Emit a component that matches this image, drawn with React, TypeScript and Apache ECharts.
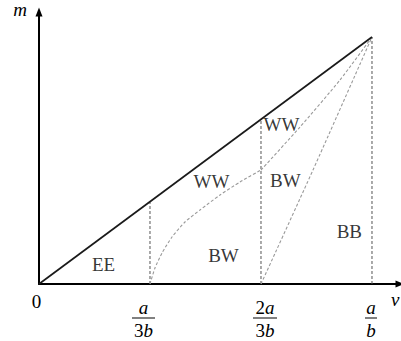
import React, { useEffect, useRef } from 'react';
import * as echarts from 'echarts';

const FONT = 'Liberation Serif, Times New Roman, serif';

// axis extents (a/b = 1 on v, m = v on the diagonal)
const vMax = 1.0841;
const mMax = 1.1012;

const tickValues = [0, 1 / 3, 2 / 3, 1];
const tickLabels = ['0', 'a/3b', '2a/3b', 'a/b'];

const diagonal = [[0, 0], [1, 1]];
const thresholdV = [1 / 3, 2 / 3, 1];

const curveLow = [
  [0.3333, 0], [0.3483, 0.0648], [0.3694, 0.1255], [0.3994, 0.1903], [0.4384, 0.251],
  [0.4835, 0.2996], [0.5435, 0.3603], [0.6036, 0.413], [0.6667, 0.4615],
];
const curveHigh = [[0.6667, 0.4615], [0.7838, 0.6356], [0.9039, 0.8259], [1, 1]];
const curveBB = [[0.6667, 0], [0.8228, 0.4615], [1, 1]];

const regionNames = ['EE', 'WW', 'BW', 'WW', 'BW', 'BB'];
const regionV = [0.194, 0.518, 0.554, 0.728, 0.74, 0.932];
const regionM = [0.077, 0.415, 0.117, 0.646, 0.417, 0.213];

// style-only: horizontal shift of each tick label, fraction bar widths
const labelShift = [-2.5, -6.5, 4, -1];
const barWidth = [0, 23, 24, 12];

function runs(text: string, line: string) {
  return text
    .split('')
    .map((c) => (/[0-9]/.test(c) ? `{${line}r|${c}}` : `{${line}i|${c}}`))
    .join('');
}

function tickFormatter(value: number) {
  const i = tickValues.findIndex((t) => Math.abs(t - value) < 1e-6);
  if (i < 0) return '';
  const text = tickLabels[i];
  const shift = labelShift[i];
  const pad = shift === 0 ? '' : `{pad${i}|}`;
  const wrap = (s: string) => (shift < 0 ? s + pad : pad + s);
  if (text.indexOf('/') < 0) return wrap(`{z|${text}}`);
  const [num, den] = text.split('/');
  return [wrap(runs(num, 'n')), wrap(`{bar${i}|}`), wrap(runs(den, 'd'))].join('\n');
}

function buildRich() {
  const base = { fontFamily: FONT, fontSize: 19, color: '#000', align: 'center' as const };
  const rich: Record<string, any> = {
    z: { ...base, lineHeight: 1 },
    nr: { ...base, lineHeight: 14 },
    ni: { ...base, fontStyle: 'italic', lineHeight: 14 },
    dr: { ...base, lineHeight: 17 },
    di: { ...base, fontStyle: 'italic', lineHeight: 17 },
  };
  tickValues.forEach((_, i) => {
    rich[`bar${i}`] = { width: barWidth[i], height: 1, backgroundColor: '#000', lineHeight: 7, align: 'center' };
    rich[`pad${i}`] = { width: Math.abs(labelShift[i]) * 2, lineHeight: 1, align: 'center' };
  });
  return rich;
}

export default function App() {
  const ref = useRef<HTMLDivElement>(null);
  useEffect(() => {
    if (!ref.current) return;
    const chart = echarts.init(ref.current, null, { renderer: 'svg' });
    const dashedGray = { color: '#555', width: 1, type: [3, 2] as number[] };
    const dashedLight = { color: '#9a9a9a', width: 1.1, type: [3, 2] as number[] };
    chart.setOption({
      animation: false,
      backgroundColor: '#fff',
      grid: { left: 39, top: 12, width: 361, height: 272, containLabel: false, outerBoundsMode: 'none' },
      xAxis: {
        type: 'value',
        min: 0,
        max: vMax,
        name: 'v',
        nameLocation: 'end',
        nameGap: -9,
        nameTextStyle: {
          fontFamily: FONT, fontStyle: 'italic', fontSize: 19, color: '#000',
          align: 'left', verticalAlign: 'top', lineHeight: 30,
        },
        axisLine: { show: true, symbol: ['none', 'triangle'], symbolSize: [7, 9], lineStyle: { color: '#000', width: 2 } },
        axisTick: { show: false },
        splitLine: { show: false },
        axisLabel: {
          customValues: tickValues,
          margin: 16.5,
          formatter: tickFormatter,
          rich: buildRich(),
        },
      },
      yAxis: {
        type: 'value',
        min: 0,
        max: mMax,
        name: 'm',
        nameLocation: 'end',
        nameGap: 3,
        nameTextStyle: {
          fontFamily: FONT, fontStyle: 'italic', fontSize: 19, color: '#000',
          align: 'right', verticalAlign: 'middle', padding: [0, 12, 0, 0],
        },
        axisLine: { show: true, symbol: ['none', 'triangle'], symbolSize: [7, 9], lineStyle: { color: '#000', width: 2 } },
        axisTick: { show: false },
        splitLine: { show: false },
        axisLabel: { show: false },
      },
      series: [
        {
          type: 'line',
          data: diagonal,
          symbol: 'none',
          lineStyle: { color: '#1a1a1a', width: 1.7 },
          z: 5,
        },
        ...thresholdV.map((v) => ({
          type: 'line',
          data: [[v, 0], [v, v]],
          symbol: 'none',
          lineStyle: dashedGray,
        })),
        { type: 'line', data: curveLow, symbol: 'none', smooth: 0.2, lineStyle: dashedLight },
        { type: 'line', data: curveHigh, symbol: 'none', smooth: 0.2, lineStyle: dashedLight },
        { type: 'line', data: curveBB, symbol: 'none', smooth: 0.2, lineStyle: dashedLight },
        {
          type: 'scatter',
          symbolSize: 0,
          data: regionNames.map((n, i) => ({ name: n, value: [regionV[i], regionM[i]] })),
          label: {
            show: true,
            position: 'inside',
            formatter: '{b}',
            fontFamily: FONT,
            fontSize: 19,
            color: '#000',
          },
          z: 6,
        },
      ],
    });
    return () => chart.dispose();
  }, []);
  return (
    <div
      ref={ref}
      style={{ position: 'absolute', left: 0, top: 0, width: 401, height: 341, background: '#fff' }}
    />
  );
}
